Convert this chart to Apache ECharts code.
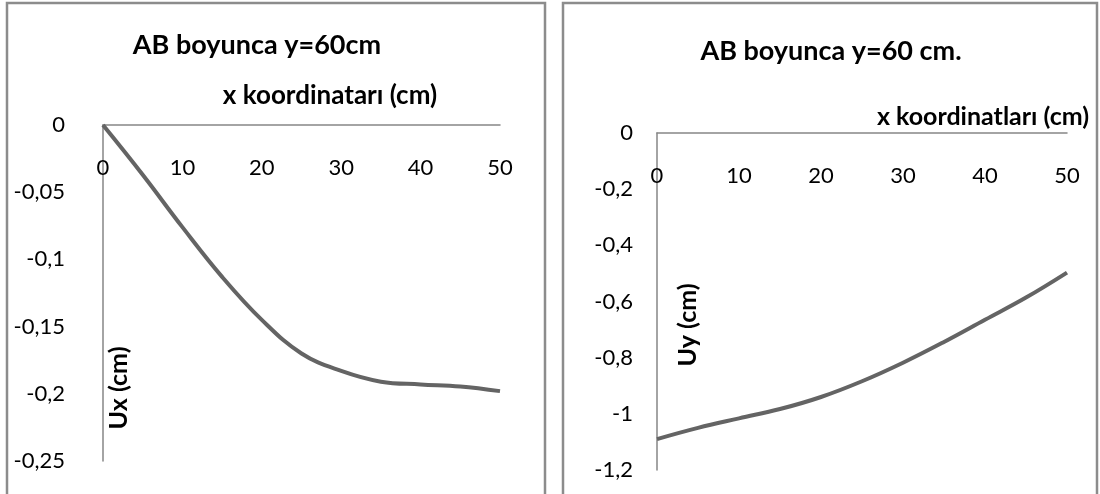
<!DOCTYPE html>
<html>
<head>
<meta charset="utf-8">
<script src="https://cdn.jsdelivr.net/npm/echarts@6/dist/echarts.min.js"></script>
<style>
  html, body { margin: 0; padding: 0; background: #ffffff; }
  #chart { width: 1100px; height: 494px; }
</style>
</head>
<body>
<div id="chart"></div>
<script>
// x coordinates along AB (cm)
const xCoords = [0, 5, 10, 15, 20, 25, 30, 35, 40, 45, 50];
// horizontal displacement Ux (cm) at y = 60 cm
const uxValues = [0, -0.037, -0.076, -0.113, -0.145, -0.170, -0.183, -0.191, -0.193, -0.1945, -0.198];
// vertical displacement Uy (cm) at y = 60 cm
const uyValues = [-1.090, -1.050, -1.016, -0.983, -0.940, -0.884, -0.818, -0.744, -0.665, -0.586, -0.497];

const leftTitle = 'AB boyunca y=60cm';
const rightTitle = 'AB boyunca y=60 cm.';
const leftXName = 'x koordinatarı (cm)';
const rightXName = 'x koordinatları (cm)';
const leftYName = 'Ux (cm)';
const rightYName = 'Uy (cm)';

const FONT = 'Lato, "Open Sans", sans-serif';
const AXIS_GREY = '#868686';
const LINE_GREY = '#646464';
const FRAME_GREY = '#8c8c8c';

const commaNumber = v => String(Math.round(v * 100) / 100).replace('.', ',');

function xAxisCfg(gridIndex) {
  return {
    type: 'value', gridIndex: gridIndex, position: 'top',
    min: 0, max: 50, interval: 10,
    axisLine: { show: true, onZero: false, lineStyle: { color: AXIS_GREY, width: 1.5 } },
    axisTick: { show: false },
    splitLine: { show: false },
    axisLabel: { inside: true, margin: 32, color: '#000', fontFamily: FONT, fontSize: 22 }
  };
}
function yAxisCfg(gridIndex, min, interval, margin) {
  return {
    type: 'value', gridIndex: gridIndex,
    min: min, max: 0, interval: interval,
    axisLine: { show: true, onZero: false, lineStyle: { color: AXIS_GREY, width: 1.5 } },
    axisTick: { show: false },
    splitLine: { show: false },
    axisLabel: { margin: margin, color: '#000', fontFamily: FONT, fontSize: 22, formatter: commaNumber }
  };
}
function text(str, x, y, size, bold, rotation) {
  return {
    type: 'text', x: x, y: y, rotation: rotation || 0, z: 10,
    style: {
      text: str, fill: '#000', font: (bold ? 'bold ' : '') + size + 'px ' + FONT,
      textAlign: 'center', textVerticalAlign: 'middle'
    }
  };
}

const chart = echarts.init(document.getElementById('chart'), null, { renderer: 'canvas' });
chart.setOption({
  animation: false,
  backgroundColor: '#ffffff',
  grid: [
    { left: 103, top: 125, width: 397, height: 336 },
    { left: 657, top: 133, width: 410, height: 337 }
  ],
  xAxis: [xAxisCfg(0), xAxisCfg(1)],
  yAxis: [yAxisCfg(0, -0.25, 0.05, 38), yAxisCfg(1, -1.2, 0.2, 24)],
  graphic: [
    { type: 'rect', shape: { x: 7, y: 3, width: 538, height: 540 },
      style: { fill: 'none', stroke: FRAME_GREY, lineWidth: 2.5 } },
    { type: 'rect', shape: { x: 563, y: 3, width: 534, height: 540 },
      style: { fill: 'none', stroke: FRAME_GREY, lineWidth: 2.5 } },
    text(leftTitle, 257, 45, 27, true),
    text(rightTitle, 831, 51, 27, true),
    text(leftXName, 330, 96, 26, true),
    text(rightXName, 983, 117, 25, true),
    text(leftYName, 119, 388, 25, true, Math.PI / 2),
    text(rightYName, 688, 325, 25, true, Math.PI / 2)
  ],
  series: [
    { type: 'line', xAxisIndex: 0, yAxisIndex: 0, smooth: 0.4, showSymbol: false,
      lineStyle: { color: LINE_GREY, width: 4 },
      data: xCoords.map((x, i) => [x, uxValues[i]]) },
    { type: 'line', xAxisIndex: 1, yAxisIndex: 1, smooth: 0.4, showSymbol: false,
      lineStyle: { color: LINE_GREY, width: 4 },
      data: xCoords.map((x, i) => [x, uyValues[i]]) }
  ]
});
</script>
</body>
</html>
